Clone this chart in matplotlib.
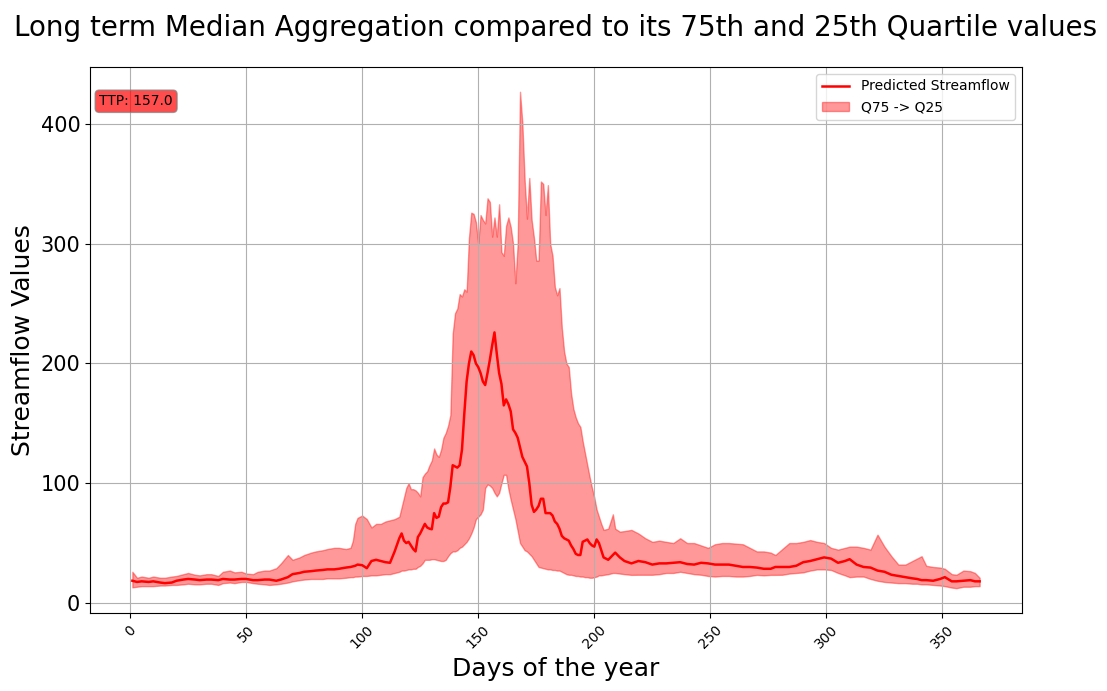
"""Long term median streamflow with its 25th-75th quartile band."""
import matplotlib
matplotlib.use("Agg")
import matplotlib.pyplot as plt

days = [
    1, 3, 5, 8, 10, 13, 15, 18, 20, 23, 25, 28, 30, 33, 35, 38, 40, 43, 45, 48,
    50, 53, 55, 58, 60, 63, 65, 68, 70, 73, 75, 78, 80, 83, 85, 88, 90, 93, 95, 96,
    97, 98, 100, 102, 104, 106, 108, 110, 112, 114, 116, 117, 118, 119, 120, 121, 122, 123, 124, 125,
    126, 127, 128, 129, 130, 131, 132, 133, 134, 135, 136, 137, 138, 139, 140, 141, 142, 143, 144, 145,
    146, 147, 148, 149, 150, 151, 152, 153, 154, 155, 156, 157, 158, 159, 160, 161, 162, 163, 164, 165,
    166, 167, 168, 169, 170, 171, 172, 173, 174, 175, 176, 177, 178, 179, 180, 181, 182, 183, 184, 185,
    186, 187, 188, 189, 190, 191, 192, 193, 194, 195, 196, 197, 198, 199, 200, 201, 202, 203, 204, 206,
    208, 209, 211, 213, 216, 219, 222, 225, 228, 231, 234, 237, 240, 243, 246, 249, 252, 255, 258, 261,
    264, 267, 270, 273, 276, 278, 281, 284, 287, 290, 293, 296, 299, 302, 305, 308, 310, 313, 316, 319,
    322, 325, 328, 331, 334, 337, 339, 341, 343, 346, 349, 351, 354, 356, 359, 362, 364, 366,
]

q75 = [
    26, 21, 22, 21, 22, 21, 21, 22, 22.5, 24, 25, 23.5, 23, 24, 24, 22.5, 26, 27, 25.5, 26,
    24.5, 24, 26, 27, 27, 29, 33, 40, 36, 38, 40, 42, 43, 44, 45, 46, 46, 45, 46, 52,
    66, 71, 73, 70, 63, 66, 66, 68, 69, 70, 72, 80, 88, 96, 100, 95, 95, 94, 92, 89,
    105, 108, 110, 115, 119, 129, 124, 122, 128, 138, 142, 148, 157, 225, 242, 246, 258, 256, 262, 260,
    305, 326, 325, 318, 300, 324, 320, 317, 338, 335, 306, 322, 306, 333, 293, 290, 315, 322, 314, 300,
    267, 300, 427, 401, 353, 321, 355, 320, 305, 286, 286, 352, 350, 324, 349, 300, 290, 264, 257, 263,
    230, 210, 200, 197, 175, 162, 155, 150, 147, 135, 125, 115, 105, 96, 88, 78, 72, 66, 61, 62,
    74, 62, 59.5, 60, 61, 58, 54, 51, 52, 51, 50, 54, 50, 50, 48, 46, 49, 50, 50, 49.5,
    49, 46, 43, 43, 42, 40, 45, 50, 50, 51, 52.5, 51, 50, 46, 44.5, 46, 47, 47, 46, 44.5,
    57, 47, 39, 32, 32, 35, 37, 39, 31, 30, 29.5, 28.5, 24, 23.5, 27, 26.5, 25, 21,
]

median = [
    18.5, 17.5, 18, 17.5, 18, 17, 16.5, 17, 18.5, 19.5, 20, 19.5, 19, 19.5, 19.5, 19, 20, 19.5, 19.5, 20,
    20, 19, 19, 19.5, 19.5, 18.5, 19.5, 21.5, 24, 25, 26, 26.5, 27, 27.5, 28, 28, 28.5, 29.5, 30, 30.5,
    31, 32, 31.5, 29, 35, 36, 35, 34, 33.5, 43, 54, 58, 52, 50, 51, 48, 45, 43, 55, 58,
    62, 66, 63, 62, 61.5, 75, 71, 72, 80, 83, 83, 84, 97, 115, 114, 113, 115, 128, 158, 185,
    200, 210, 207, 200, 197, 192, 185, 182, 192, 203, 215, 226, 208, 192, 183, 165, 170, 166, 160, 145,
    142, 138, 130, 122, 118, 114, 100, 82, 76, 78, 81, 87, 87, 75, 75, 75, 73, 68, 66, 62,
    56, 54, 53, 52, 48, 45, 41, 40, 40, 51, 52, 53, 50, 48, 47, 53, 50, 44, 38, 36,
    40, 42, 38, 35, 33, 35, 34, 32, 33, 33, 33.5, 34, 32.5, 32, 33.5, 33, 32, 32, 32, 31,
    30, 30, 29.5, 28.5, 28.5, 30, 30, 30, 31, 34, 35, 36.5, 38, 37, 33.5, 35, 36.5, 32, 30, 29.5,
    27, 26, 23.5, 22.5, 21.5, 20.5, 20, 19, 19, 18.5, 20, 21.5, 18, 18, 18.5, 19, 18, 18,
]

q25 = [
    13, 13.5, 14, 14, 14, 14.5, 14.5, 15, 15, 15.5, 16, 15.5, 15.5, 16, 16, 15, 16.5, 17, 16.5, 17.5,
    17.5, 16.5, 16, 15.5, 15, 15.5, 16, 17, 18, 19, 19.5, 20, 20, 20, 20.5, 20.5, 20.5, 21, 21.5, 21.5,
    22, 22, 22.5, 22.5, 23, 23, 23.5, 24, 24, 25, 26, 27, 27, 27.5, 28, 28, 28.5, 28.5, 30, 31,
    33, 36, 36, 36, 36.5, 36.5, 36, 35.5, 35, 35, 36, 39, 41.5, 43, 43, 44, 46, 47, 49, 51,
    54, 58, 63, 70, 72, 74, 78, 96, 99, 98, 96, 92, 89, 92, 100, 107, 107, 95, 86, 78,
    70, 60, 50, 47, 44, 43, 41, 39, 36, 33, 30, 29.5, 29, 28.5, 28, 28, 27.5, 27.5, 27, 27,
    26, 25, 24, 23.5, 23.5, 23, 22.5, 22.5, 22, 22, 21.5, 21.5, 21, 21, 21.5, 22, 23, 23, 23.4, 24,
    25, 25, 24.5, 24, 23.4, 23.5, 23.5, 23.5, 24, 25, 25, 26, 25, 24, 23.5, 22.5, 22, 22.5, 22.5, 22,
    22, 22.5, 23.4, 23, 23.4, 23.4, 23.5, 24.5, 25, 25.5, 27, 28, 28, 27.5, 25, 23, 21.5, 22, 22, 20,
    18.5, 17.5, 17, 16.5, 16.5, 16, 16, 15.5, 15.5, 15, 14.5, 14, 12.8, 12.3, 13.5, 13.5, 14, 14,
]

ttp_day = 157.0

fig = plt.figure(figsize=(11.07, 6.91), dpi=100)
ax = fig.add_axes([0.0813, 0.1129, 0.8419, 0.7902])

ax.plot(days, median, color="red", linewidth=1.8, label="Predicted Streamflow")
ax.fill_between(days, q75, q25, color="red", alpha=0.4, label="Q75 -> Q25")

ax.text(0.01, 0.95, f"TTP: {ttp_day}", transform=ax.transAxes, fontsize=10,
        va="top", ha="left",
        bbox=dict(boxstyle="round", facecolor="red", edgecolor="gray", alpha=0.7))

ax.set_title("Long term Median Aggregation compared to its 75th and 25th Quartile values",
             fontsize=20, pad=22)
ax.set_xlabel("Days of the year", fontsize=18)
ax.set_ylabel("Streamflow Values", fontsize=18)
ax.tick_params(axis="y", labelsize=15)
ax.tick_params(axis="x", labelsize=10, labelrotation=45)
ax.grid(True)
ax.legend(loc="upper right")

fig.savefig("out.png", dpi=100)
plt.close(fig)
